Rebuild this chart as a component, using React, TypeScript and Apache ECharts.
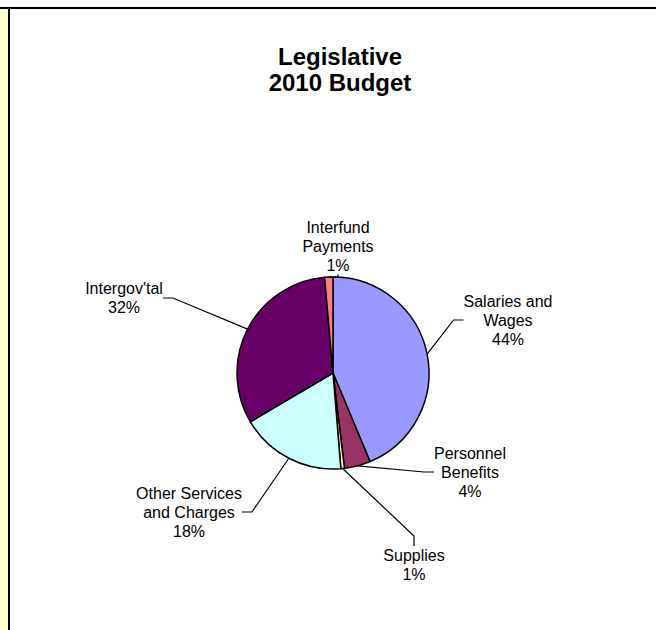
import React, { useEffect, useRef } from 'react';
import * as echarts from 'echarts';

const chartTitle = 'Legislative\n2010 Budget';
const categories = [
  'Salaries and Wages',
  'Personnel Benefits',
  'Supplies',
  'Other Services and Charges',
  "Intergov'tal",
  'Interfund Payments',
];
const labelTexts = [
  'Salaries and\nWages',
  'Personnel\nBenefits',
  'Supplies',
  'Other Services\nand Charges',
  "Intergov'tal",
  'Interfund\nPayments',
];
const values = [43.7, 4.4, 0.6, 17.8, 32.1, 1.4];
const colors = ['#9999FF', '#993366', '#FFFFCC', '#CCFFFF', '#660066', '#FF8080'];

// label block centres (layout only)
const labelCenters: [number, number][] = [
  [508, 320],
  [470, 472],
  [414, 565],
  [189, 512],
  [124, 298],
  [338, 246],
];

const FONT = '"Liberation Sans", Arial, Helvetica, sans-serif';

export default function App() {
  const ref = useRef<HTMLDivElement>(null);
  useEffect(() => {
    document.body.style.margin = '0';
    const chart = echarts.init(ref.current!, null, { renderer: 'svg' });
    chart.setOption({
      animation: false,
      backgroundColor: '#ffffff',
      title: {
        text: chartTitle,
        left: 335,
        top: 38,
        textAlign: 'center',
        textStyle: {
          fontFamily: FONT,
          fontSize: 24,
          fontWeight: 'bold',
          color: '#000',
          lineHeight: 26,
        },
      },
      graphic: [
        { type: 'rect', shape: { x: 0, y: 9, width: 8, height: 630 }, style: { fill: '#FFFFCC' }, silent: true },
        { type: 'rect', shape: { x: 0, y: 7, width: 656, height: 2 }, style: { fill: '#000' }, silent: true },
        { type: 'rect', shape: { x: 8, y: 7, width: 2, height: 630 }, style: { fill: '#000' }, silent: true },
      ],
      series: [
        {
          type: 'pie',
          center: [333, 373],
          radius: 96,
          startAngle: 90,
          clockwise: true,
          avoidLabelOverlap: false,
          silent: true,
          itemStyle: { borderColor: '#000', borderWidth: 1.5 },
          label: {
            show: true,
            position: 'outer',
            fontFamily: FONT,
            fontSize: 16,
            lineHeight: 19,
            color: '#000',
            align: 'center',
            formatter: (p: any) => `${labelTexts[p.dataIndex]}\n${Math.round(p.percent)}%`,
          },
          labelLine: {
            show: true,
            length: 10,
            length2: 10,
            smooth: false,
            lineStyle: { color: '#000', width: 1.2 },
          },
          labelLayout: (params: any) => {
            const c = labelCenters[params.dataIndex];
            return { x: c[0], y: c[1], align: 'center', verticalAlign: 'middle' };
          },
          data: categories.map((name, i) => ({
            name,
            value: values[i],
            itemStyle: { color: colors[i] },
          })),
        },
      ],
    });
    return () => chart.dispose();
  }, []);
  return <div ref={ref} style={{ width: 656, height: 630 }} />;
}
